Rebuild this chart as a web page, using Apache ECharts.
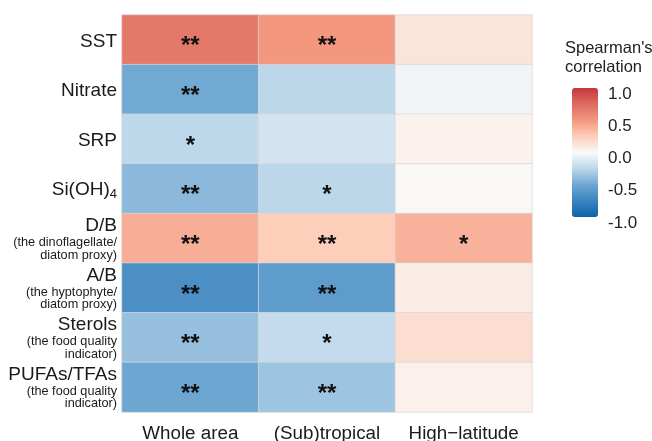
<!DOCTYPE html>
<html>
<head>
<meta charset="utf-8">
<script src="https://cdn.jsdelivr.net/npm/echarts@6/dist/echarts.min.js"></script>
<style>html,body{margin:0;padding:0;background:#fff}#c{width:652px;height:441px}</style>
</head>
<body>
<div id="c"></div>
<script>
var columns = ['Whole area', '(Sub)tropical', 'High\u2212latitude'];
var rowLabels = [
  '{ms|SST}',
  '{ms|Nitrate}',
  '{ms|SRP}',
  '{ms|Si(OH)}{s4|4}',
  '{m|D/B}\n{n|(the dinoflagellate/}\n{n|diatom proxy)}',
  '{m|A/B}\n{n|(the hyptophyte/}\n{n|diatom proxy)}',
  '{m|Sterols}\n{n|(the food quality}\n{n|indicator)}',
  '{m|PUFAs/TFAs}\n{n|(the food quality}\n{n|indicator)}'
];
var wholeArea    = [0.67, -0.49, -0.24, -0.41, 0.40, -0.67, -0.37, -0.51];
var subtropical  = [0.50, -0.25, -0.16, -0.25, 0.24, -0.58, -0.22, -0.35];
var highLatitude = [0.12, -0.04, 0.045, 0.01, 0.38, 0.08, 0.155, 0.055];
var starsWhole   = ['**', '**', '*', '**', '**', '**', '**', '**'];
var starsSub     = ['**', '', '', '*', '**', '**', '*', '**'];
var starsHigh    = ['', '', '', '', '*', '', '', ''];
var legendTicks  = [-1, -0.5, 0, 0.5, 1];

var cols = [wholeArea, subtropical, highLatitude];
var stars = [starsWhole, starsSub, starsHigh];
var data = [];
for (var c = 0; c < cols.length; c++) {
  for (var r = 0; r < rowLabels.length; r++) {
    data.push({value: [c, r, cols[c][r]], star: stars[c][r]});
  }
}
var FONT = 'Liberation Sans, Arial, sans-serif';
var chart = echarts.init(document.getElementById('c'), null, {renderer: 'canvas'});
chart.setOption({
  backgroundColor: '#ffffff',
  animation: false,
  title: {
    text: "Spearman's\ncorrelation",
    left: 565, top: 39, padding: 0,
    textStyle: {fontFamily: FONT, fontSize: 16.5, fontWeight: 'normal', color: '#222', lineHeight: 19}
  },
  grid: [
    {left: 122, right: 120, top: 15, bottom: 29, outerBoundsMode: 'none', containLabel: false},
    {left: 572, width: 26, top: 94, height: 129, outerBoundsMode: 'none', containLabel: false}
  ],
  xAxis: [
    {
      type: 'category', data: columns, gridIndex: 0,
      axisLine: {show: false}, axisTick: {show: false}, splitLine: {show: false},
      axisLabel: {fontFamily: FONT, fontSize: 18.8, color: '#1a1a1a', margin: 12, interval: 0, hideOverlap: false}
    },
    {type: 'value', gridIndex: 1, show: false, min: 0, max: 1}
  ],
  yAxis: [
    {
      type: 'category', data: rowLabels, gridIndex: 0, inverse: true,
      axisLine: {show: false}, axisTick: {show: false}, splitLine: {show: false},
      axisLabel: {
        margin: 5, align: 'right', interval: 0,
        formatter: function (v) { return v; },
        rich: {
          ms: {fontFamily: FONT, fontSize: 19, color: '#1a1a1a', align: 'right', lineHeight: 21, padding: [3, 0, 0, 0]},
          m: {fontFamily: FONT, fontSize: 19, color: '#1a1a1a', align: 'right', lineHeight: 21},
          s4: {fontFamily: FONT, fontSize: 13, color: '#1a1a1a', padding: [12, 0, 0, 0], lineHeight: 21},
          n: {fontFamily: FONT, fontSize: 12.7, color: '#1a1a1a', align: 'right', lineHeight: 12.5}
        }
      }
    },
    {
      type: 'value', gridIndex: 1, min: -1, max: 1, interval: 0.5, position: 'right',
      axisLine: {show: false}, axisTick: {show: false}, splitLine: {show: false},
      axisLabel: {fontFamily: FONT, fontSize: 17, color: '#222', margin: 10,
        formatter: function (v) { return v.toFixed(1); }}
    }
  ],
  visualMap: {
    type: 'continuous', min: -1, max: 1, calculable: false,
    left: 572, top: 88, itemWidth: 26, itemHeight: 129, padding: 0,
    showLabel: false, seriesIndex: 0,
    inRange: {color: ['#0d63ab', '#3a84bf', '#6fa7d2', '#bcd7ea', '#fafafa', '#fdcdb8', '#f3977f', '#dc6d5f', '#c6363c']}
  },
  series: [{
    type: 'heatmap', xAxisIndex: 0, yAxisIndex: 0,
    data: data,
    itemStyle: {borderColor: 'rgba(215,215,215,0.7)', borderWidth: 1},
    label: {
      show: true,
      formatter: function (p) { return p.data.star; },
      fontFamily: FONT, fontSize: 24, fontWeight: 'bold', color: '#111',
      offset: [0, 7]
    },
    emphasis: {disabled: true}
  }, {
    type: 'scatter', xAxisIndex: 1, yAxisIndex: 1, data: [], silent: true
  }]
});
</script>
</body>
</html>
